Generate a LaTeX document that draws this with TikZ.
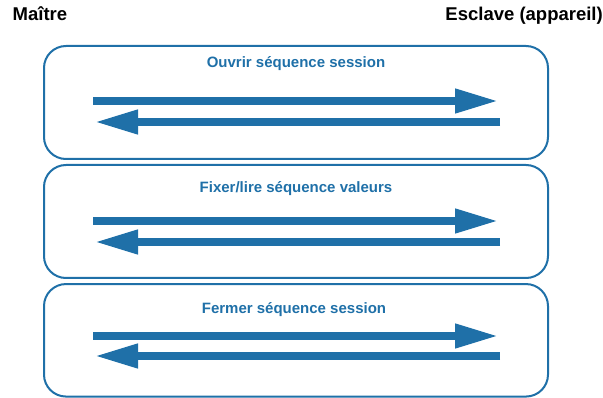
\documentclass[tikz,border=0pt]{standalone}
\usepackage{fontspec}
\setmainfont{Liberation Sans}
\usepackage{tikz}
\usetikzlibrary{arrows.meta,positioning}
\definecolor{seqblue}{RGB}{31,112,168}

\begin{document}
\begin{tikzpicture}[
    x=1pt, y=-1pt,
    phase/.style={rectangle, draw=seqblue, line width=2pt, rounded corners=22pt, minimum width=504pt, minimum height=113pt, inner sep=0pt},
    title/.style={font=\bfseries\fontsize{15}{17}\selectfont, text=seqblue, inner sep=0pt},
    party/.style={font=\bfseries\fontsize{18.5}{21}\selectfont, inner sep=0pt},
    msg/.style={-{Triangle[length=43pt, width=23pt]}, line width=7.5pt, seqblue}
  ]
    \useasboundingbox (0,0) rectangle (603,398);
    % en-tetes
    \node[party, anchor=base west] (maitre) at (12.5,20.7) {Maître};
    \node[party, anchor=base east] (esclave) at (603,20.7) {Esclave (appareil)};
    % les trois phases
    \node[phase] (open) at (296,102.5) {};
    \node[phase] (rw) at (296,221.5) {};
    \node[phase, minimum height=112.5pt] (close) at (296,340.3) {};
    \node[title, anchor=base] (topen) at (296,67.5) {Ouvrir séquence session};
    \node[title, anchor=base] (trw) at (296,192.5) {Fixer/lire séquence valeurs};
    \node[title, anchor=base] (tclose) at (294,313.3) {Fermer séquence session};
    % requetes et reponses
    \coordinate (m1) at (93,101);  \coordinate (s1) at (498,101);
    \coordinate (s2) at (500,122); \coordinate (m2) at (95,122);
    \coordinate (m3) at (93,221);  \coordinate (s3) at (498,221);
    \coordinate (s4) at (500,242); \coordinate (m4) at (95,242);
    \coordinate (m5) at (93,336);  \coordinate (s5) at (498,336);
    \coordinate (s6) at (500,356); \coordinate (m6) at (95,356);
    \draw[msg] (m1) -- (s1);
    \draw[msg] (s2) -- (m2);
    \draw[msg] (m3) -- (s3);
    \draw[msg] (s4) -- (m4);
    \draw[msg] (m5) -- (s5);
    \draw[msg] (s6) -- (m6);
  \end{tikzpicture}
\end{document}
